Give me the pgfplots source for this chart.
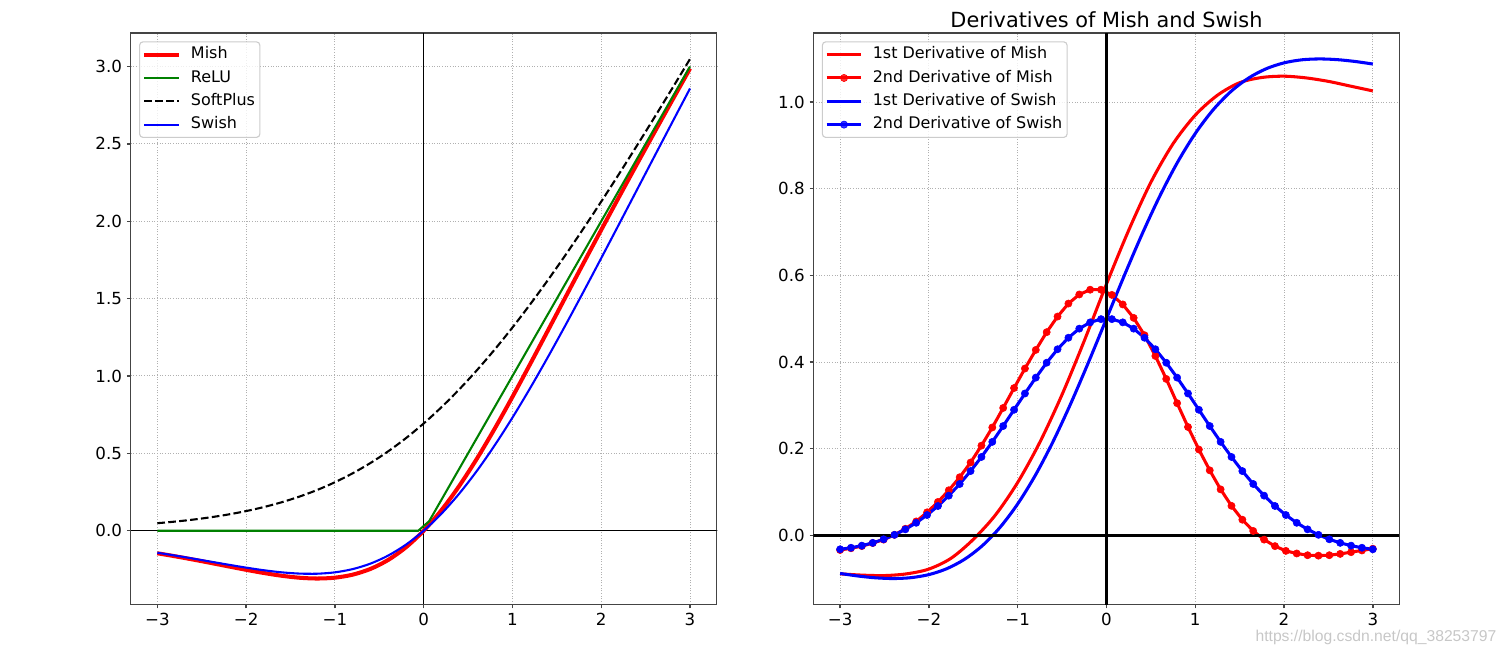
\documentclass[border=0pt]{standalone}
\usepackage{fontspec}
\setmainfont{DejaVu Sans}
\newfontfamily\wmfont{Liberation Sans}
\usepackage{pgfplots}
\pgfplotsset{compat=1.18}
\definecolor{mplgreen}{rgb}{0,0.5,0}
\definecolor{gridc}{HTML}{B0B0B0}
\definecolor{legframe}{HTML}{CCCCCC}
\definecolor{spinec}{HTML}{444444}
\pgfplotsset{
  base/.style={
    scale only axis,
    width=421.9bp, height=411.5bp,
    anchor=south west,
    xmin=-3.3, xmax=3.3,
    axis line style={spinec, line width=1bp},
    tick align=outside,
    tick pos=left,
    major tick length=2.8bp,
    every tick/.style={spinec, line width=1bp},
    xtick={-3,-2,-1,0,1,2,3},
    xticklabels={−3,−2,−1,0,1,2,3},
    grid=major,
    major grid style={gridc, line width=0.7bp, dash pattern=on 0.7bp off 1.2bp},
    tick label style={font=\fontsize{12bp}{14bp}\selectfont, black},
    xticklabel style={text depth=0pt},
    legend cell align=left,
    legend style={
      at={(0,1)}, anchor=north west, xshift=6bp, yshift=-6bp,
      draw=legframe, line width=0.8bp, rounded corners=2.5bp,
      fill=white, fill opacity=0.8, text opacity=1,
      font=\fontsize{11.5bp}{13bp}\selectfont,
      inner xsep=2bp, inner ysep=2bp,
      row sep=2.4bp,
      nodes={inner sep=1.5bp, text height=8.8bp, text depth=2.6bp},
      /tikz/every odd column/.append style={column sep=5.6bp},
    },
    legend image code/.code={
      \draw[mark repeat=2,mark phase=2,#1] plot coordinates {(0bp,0bp) (12.5bp,0bp) (25bp,0bp)};
    },
  }
}
\begin{document}
\begin{tikzpicture}
\path[use as bounding box] (0,0) rectangle (1085.04bp,469.44bp);
% ---------------- left axis ----------------
\begin{axis}[base, at={(94.1bp,34.2bp)},
  ymin=-0.4767, ymax=3.2165,
  ytick={0,0.5,1,1.5,2,2.5,3},
  yticklabels={0.0,0.5,1.0,1.5,2.0,2.5,3.0}]
\addplot[black, line width=0.8bp, forget plot] coordinates {(-3.3,0) (3.3,0)};
\addplot[black, line width=0.8bp, forget plot] coordinates {(0,-0.4767) (0,3.2165)};
\addplot[red, line width=2.9bp, smooth] coordinates {
(-3,-0.145629) (-2.8,-0.165099) (-2.6,-0.185960) (-2.4,-0.207886) (-2.2,-0.230336)
(-2,-0.252502) (-1.8,-0.273233) (-1.6,-0.290968) (-1.4,-0.303682) (-1.2,-0.308837)
(-1,-0.303401) (-0.8,-0.283963) (-0.6,-0.246936) (-0.4,-0.188916) (-0.2,-0.107144)
(0,0) (0.2,0.132599) (0.4,0.289030) (0.6,0.466138) (0.8,0.659700) (1,0.865099)
(1.2,1.077946) (1.4,1.294559) (1.6,1.512181) (1.8,1.728990) (2,1.943958)
(2.2,2.156651) (2.4,2.367024) (2.6,2.575261) (2.8,2.781657) (3,2.986536)};
\addlegendentry{Mish}
\addplot[mplgreen, line width=1.5bp] coordinates {(-3,0) (-0.061224,0) (0.061224,0.061224) (3,3)};
\addlegendentry{ReLU}
\addplot[black, line width=1.5bp, dash pattern=on 5.5bp off 2.4bp, smooth] coordinates {
(-3,0.048587) (-2.8,0.059034) (-2.6,0.071648) (-2.4,0.086834) (-2.2,0.105083)
(-2,0.126928) (-1.8,0.152977) (-1.6,0.183900) (-1.4,0.220417) (-1.2,0.263282)
(-1,0.313262) (-0.8,0.371101) (-0.6,0.437488) (-0.4,0.513015) (-0.2,0.598139)
(0,0.693147) (0.2,0.798139) (0.4,0.913015) (0.6,1.037488) (0.8,1.171101)
(1,1.313262) (1.2,1.463282) (1.4,1.620417) (1.6,1.783900) (1.8,1.952977)
(2,2.126928) (2.2,2.305083) (2.4,2.486836) (2.6,2.671644) (2.8,2.859033) (3,3.048587)};
\addlegendentry{SoftPlus}
\addplot[blue, line width=1.5bp, smooth] coordinates {
(-3,-0.142277) (-2.8,-0.160507) (-2.6,-0.179759) (-2.4,-0.199615) (-2.2,-0.219450)
(-2,-0.238406) (-1.8,-0.255332) (-1.6,-0.268771) (-1.4,-0.276942) (-1.2,-0.277770)
(-1,-0.268941) (-0.8,-0.248021) (-0.6,-0.212606) (-0.4,-0.160525) (-0.2,-0.090033)
(0,0) (0.2,0.109967) (0.4,0.239475) (0.6,0.387394) (0.8,0.551979) (1,0.731059)
(1.2,0.922230) (1.4,1.123058) (1.6,1.331229) (1.8,1.544668) (2,1.761594)
(2.2,1.980550) (2.4,2.200385) (2.6,2.420241) (2.8,2.639493) (3,2.857723)};
\addlegendentry{Swish}
\end{axis}
% ---------------- right axis ----------------
\begin{axis}[base, at={(585.7bp,34.2bp)},
  ymin=-0.1598, ymax=1.1598,
  ytick={0,0.2,0.4,0.6,0.8,1},
  yticklabels={0.0,0.2,0.4,0.6,0.8,1.0},
  title={Derivatives of Mish and Swish},
  title style={at={(0.5,1)}, anchor=base, yshift=-2bp, font=\fontsize{15bp}{18bp}\selectfont}]
\addplot[red, line width=2.2bp, smooth] coordinates {
(-3,-0.089) (-2.75,-0.092) (-2.5,-0.093) (-2.25,-0.089) (-2,-0.078) (-1.75,-0.053)
(-1.5,-0.0095) (-1.25,0.047) (-1,0.122) (-0.75,0.215) (-0.5,0.325) (-0.25,0.449)
(0,0.580) (0.25,0.704) (0.5,0.815) (0.75,0.904) (1,0.970) (1.25,1.016) (1.5,1.045)
(1.75,1.057) (2,1.060) (2.25,1.056) (2.5,1.048) (2.75,1.037) (3,1.026)};
\addlegendentry{1st Derivative of Mish}
\addplot[red, line width=2.2bp, mark=*, mark size=2.6bp, mark options={fill=red, line width=0.4bp}] coordinates {
(-3.000000,-0.034) (-2.877551,-0.030) (-2.755102,-0.025) (-2.632653,-0.018) (-2.510204,-0.010)
(-2.387755,0.001) (-2.265306,0.015) (-2.142857,0.032) (-2.020408,0.053) (-1.897959,0.077)
(-1.775510,0.104) (-1.653061,0.134) (-1.530612,0.168) (-1.408163,0.207) (-1.285714,0.249)
(-1.163265,0.294) (-1.040816,0.340) (-0.918367,0.385) (-0.795918,0.428) (-0.673469,0.469)
(-0.551020,0.505) (-0.428571,0.535) (-0.306122,0.556) (-0.183673,0.567) (-0.061224,0.567)
(0.061224,0.555) (0.183673,0.533) (0.306122,0.502) (0.428571,0.462) (0.551020,0.414)
(0.673469,0.361) (0.795918,0.305) (0.918367,0.250) (1.040816,0.198) (1.163265,0.150)
(1.285714,0.106) (1.408163,0.068) (1.530612,0.036) (1.653061,0.010) (1.775510,-0.010)
(1.897959,-0.025) (2.020408,-0.036) (2.142857,-0.042) (2.265306,-0.046) (2.387755,-0.047)
(2.510204,-0.046) (2.632653,-0.043) (2.755102,-0.039) (2.877551,-0.035) (3.000000,-0.031)};
\addlegendentry{2nd Derivative of Mish}
\addplot[blue, line width=2.2bp, smooth] coordinates {
(-3,-0.088104) (-2.8,-0.093982) (-2.6,-0.098193) (-2.4,-0.099839) (-2.2,-0.097810)
(-2,-0.090785) (-1.8,-0.077262) (-1.6,-0.055640) (-1.4,-0.024342) (-1.2,0.018002)
(-1,0.072329) (-0.8,0.138898) (-0.6,0.217074) (-0.4,0.305208) (-0.2,0.400663)
(0,0.5) (0.2,0.599337) (0.4,0.694792) (0.6,0.782926) (0.8,0.861102) (1,0.927671)
(1.2,0.981998) (1.4,1.024342) (1.6,1.055640) (1.8,1.077262) (2,1.090785)
(2.2,1.097810) (2.4,1.099839) (2.6,1.098193) (2.8,1.093982) (3,1.088104)};
\addlegendentry{1st Derivative of Swish}
\addplot[blue, line width=2.2bp, mark=*, mark size=2.6bp, mark options={fill=blue, line width=0.4bp}] coordinates {
(-3.000000,-0.032322) (-2.877551,-0.028797) (-2.755102,-0.023928) (-2.632653,-0.017490) (-2.510204,-0.009239)
(-2.387755,0.001073) (-2.265306,0.013694) (-2.142857,0.028864) (-2.020408,0.046793) (-1.897959,0.067648)
(-1.775510,0.091529) (-1.653061,0.118448) (-1.530612,0.148300) (-1.408163,0.180847) (-1.285714,0.215689)
(-1.163265,0.252252) (-1.040816,0.289791) (-0.918367,0.327389) (-0.795918,0.363992) (-0.673469,0.398442)
(-0.551020,0.429541) (-0.428571,0.456119) (-0.306122,0.477111) (-0.183673,0.491636) (-0.061224,0.499064)
(0.061224,0.499064) (0.183673,0.491636) (0.306122,0.477111) (0.428571,0.456119) (0.551020,0.429541)
(0.673469,0.398442) (0.795918,0.363992) (0.918367,0.327389) (1.040816,0.289791) (1.163265,0.252252)
(1.285714,0.215689) (1.408163,0.180847) (1.530612,0.148300) (1.653061,0.118448) (1.775510,0.091529)
(1.897959,0.067648) (2.020408,0.046793) (2.142857,0.028864) (2.265306,0.013694) (2.387755,0.001073)
(2.510204,-0.009239) (2.632653,-0.017490) (2.755102,-0.023928) (2.877551,-0.028797) (3.000000,-0.032322)};
\addlegendentry{2nd Derivative of Swish}
\addplot[black, line width=1.8bp, forget plot] coordinates {(-3.3,0) (3.3,0)};
\addplot[black, line width=1.8bp, forget plot] coordinates {(0,-0.1598) (0,1.1598)};
\end{axis}
\node[anchor=base east, inner sep=0pt, text height=8.2bp, text depth=2.4bp, text=black!22, font=\wmfont\fontsize{11.3bp}{13bp}\selectfont] at (1077.6bp,7.6bp) {https://blog.csdn.net/qq\_38253797};
\end{tikzpicture}
\end{document}
